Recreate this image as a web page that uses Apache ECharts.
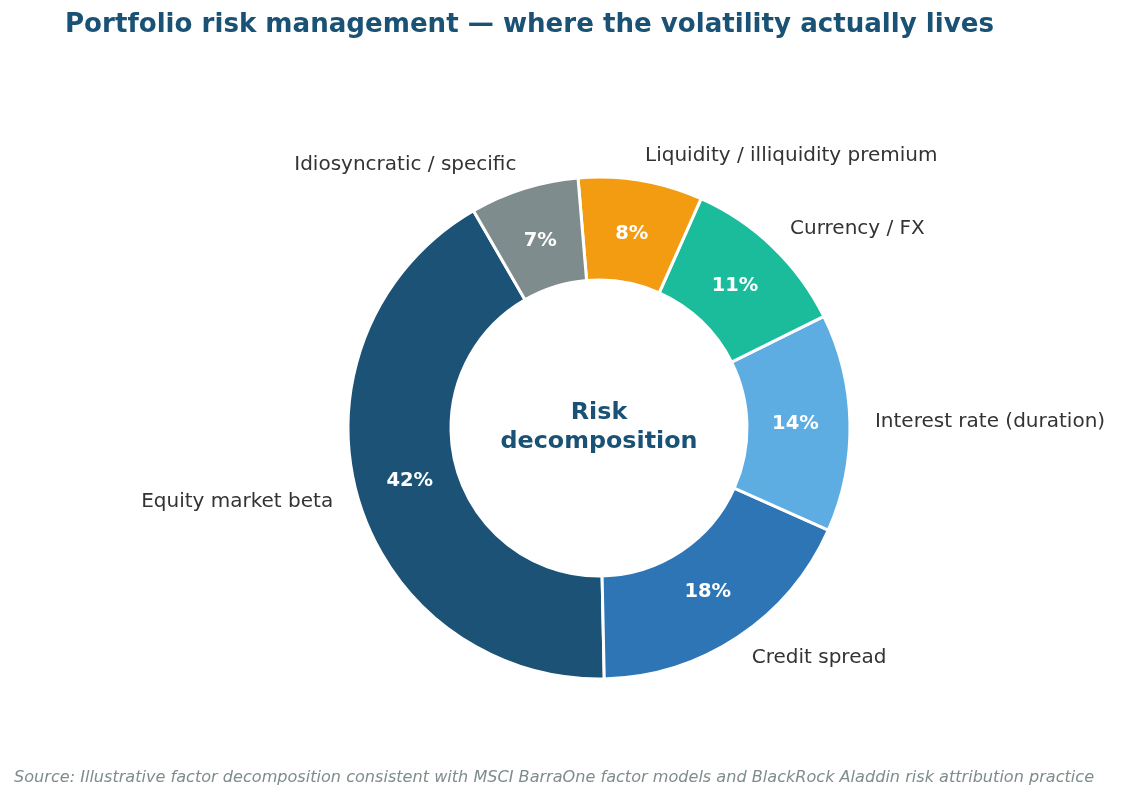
<!DOCTYPE html>
<html>
<head>
<meta charset="utf-8">
<script src="https://cdn.jsdelivr.net/npm/echarts@6/dist/echarts.min.js"></script>
<style>
html,body{margin:0;padding:0;background:#fff;}
#chart{width:1122px;height:800px;}
</style>
</head>
<body>
<div id="chart"></div>
<script>
const categories = ["Equity market beta", "Credit spread", "Interest rate (duration)", "Currency / FX", "Liquidity / illiquidity premium", "Idiosyncratic / specific"];
const values = [42, 18, 14, 11, 8, 7];
const colors = ["#1b5276", "#2e75b6", "#5dade2", "#1abc9c", "#f39c12", "#7f8c8d"];
const titleText = "Portfolio risk management \u2014 where the volatility actually lives";
const centerText = "Risk\ndecomposition";
const sourceText = "Source: Illustrative factor decomposition consistent with MSCI BarraOne factor models and BlackRock Aladdin risk attribution practice";

const FONT = "'DejaVu Sans', sans-serif";
const data = categories.map((c, i) => ({ name: c, value: values[i], itemStyle: { color: colors[i] } }));
const ghost = categories.map((c, i) => ({ name: c, value: values[i] }));
const common = {
  type: 'pie',
  center: [599, 428],
  startAngle: 120,
  clockwise: false,
  avoidLabelOverlap: false,
  silent: true
};

const chart = echarts.init(document.getElementById('chart'), null, { renderer: 'canvas' });
chart.setOption({
  backgroundColor: '#ffffff',
  animation: false,
  title: [
    { text: titleText, left: 65, top: 12, padding: 0,
      textStyle: { fontFamily: FONT, fontSize: 26.1, lineHeight: 26, fontWeight: 'bold', color: '#1a5276' } },
    { text: centerText, left: 599, top: 398, padding: 0, textAlign: 'center',
      textStyle: { fontFamily: FONT, fontSize: 23.8, fontWeight: 'bold', color: '#1a5276', lineHeight: 29, align: 'center' } },
    { text: sourceText, left: 14, top: 770, padding: 0,
      textStyle: { fontFamily: FONT, fontSize: 16.1, lineHeight: 16, fontStyle: 'italic', fontWeight: 'normal', color: '#7f8c8d' } }
  ],
  series: [
    Object.assign({}, common, {
      radius: [148, 251],
      itemStyle: { borderColor: '#ffffff', borderWidth: 3 },
      label: { show: false },
      labelLine: { show: false },
      data: data,
      z: 1
    }),
    Object.assign({}, common, {
      radius: [141, 246],
      itemStyle: { color: 'rgba(0,0,0,0)', borderWidth: 0 },
      label: {
        show: true, position: 'inside',
        formatter: p => p.value + '%',
        fontFamily: FONT, fontSize: 19.5, fontWeight: 'bold', color: '#ffffff'
      },
      labelLine: { show: false },
      data: ghost,
      z: 3
    }),
    Object.assign({}, common, {
      radius: [148, 251],
      itemStyle: { color: 'rgba(0,0,0,0)', borderWidth: 0 },
      label: {
        show: true, position: 'outside',
        distanceToLabelLine: 0,
        fontFamily: FONT, fontSize: 20, color: '#333333'
      },
      labelLine: { show: false, length: 25, length2: 0 },
      data: ghost,
      z: 2
    })
  ]
});
</script>
</body>
</html>
